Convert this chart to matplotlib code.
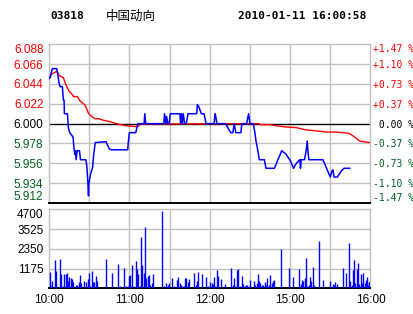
import matplotlib
matplotlib.use('Agg')
import matplotlib.pyplot as plt

# ---------------- data ----------------
code = "03818"
name = "中国动向"
stamp = "2010-01-11 16:00:58"
prev_close = 6.000

price_ticks = [6.088, 6.066, 6.044, 6.022, 6.000, 5.978, 5.956, 5.934, 5.912]
price_labels = ["6.088", "6.066", "6.044", "6.022", "6.000", "5.978", "5.956", "5.934", "5.912"]
pct_labels = ["+1.47 %", "+1.10 %", "+0.73 %", "+0.37 %", " 0.00 %",
              "-0.37 %", "-0.73 %", "-1.10 %", "-1.47 %"]
vol_ticks = [0, 1175, 2350, 3525, 4700]
vol_labels = ["", "1175", "2350", "3525", "4700"]
time_ticks = [0, 60, 120, 180, 240]
time_labels = ["10:00", "11:00", "12:00", "15:00", "16:00"]
grid_minutes = [30, 60, 90, 120, 150, 180, 210]

# trade price (minutes after 10:00, continuous session axis)
price_t = [0, 0.75, 2.5, 5.75, 6.5, 7.5, 8.25, 10, 10.75, 11.25, 11.5, 13.75, 14.5, 15.5,
           18, 18.5, 19.25, 19.75, 20.25, 21, 22.75, 23.5, 27.5, 28.25, 29, 29.5, 29.75,
           31, 32.5, 33.25, 34.5, 42.5, 45, 46.5, 58.75, 59.25, 60, 64.75, 65.5, 66.25,
           71, 71.5, 72.25, 85.75, 86.25, 87.25, 87.75, 88.75, 89.75, 90.5, 97.75, 98.25,
           99, 99.5, 100.25, 101.25, 102.5, 103.75, 110.25, 110.75, 111.75, 112.75, 113.75,
           115.75, 117.25, 123.25, 124, 124.75, 125.25, 132, 134, 135.75, 137.25, 138.25,
           139.5, 143.25, 144, 147.5, 149, 150, 152.5, 153.5, 154.5, 155.75, 157, 160.75,
           162, 168.25, 173.75, 177, 180.25, 182.5, 184.5, 186.25, 187.25, 187.75, 188.25,
           190.75, 192, 192.75, 193.25, 194, 204.5, 207, 210, 211.25, 212, 212.75, 215.25,
           218.25, 220.25, 224.5]
price_v = [6.050, 6.051, 6.061, 6.061, 6.055, 6.045, 6.041, 6.041, 6.026, 6.026, 6.011, 6.011,
           5.995, 5.990, 5.985, 5.975, 5.966, 5.970, 5.960, 5.970, 5.970, 5.960, 5.960, 5.953,
           5.935, 5.920, 5.933, 5.944, 5.951, 5.964, 5.979, 5.980, 5.972, 5.971, 5.971, 5.980,
           5.990, 5.990, 5.995, 6.000, 6.000, 6.011, 6.000, 6.000, 6.011, 6.000, 6.008, 6.000,
           6.000, 6.011, 6.011, 6.000, 6.011, 6.000, 6.011, 6.000, 6.000, 6.011, 6.011, 6.021,
           6.019, 6.015, 6.011, 6.011, 6.000, 6.000, 6.011, 6.006, 6.000, 6.000, 5.994, 5.990,
           5.990, 6.000, 5.990, 5.990, 6.000, 6.000, 6.011, 6.000, 6.000, 5.992, 5.981, 5.9715,
           5.960, 5.960, 5.9505, 5.9505, 5.970, 5.966, 5.9586, 5.9505, 5.9557, 5.9586, 5.960,
           5.9505, 5.960, 5.960, 5.9704, 5.9807, 5.9704, 5.960, 5.960, 5.9512, 5.9408, 5.9475,
           5.9488, 5.9408, 5.9408, 5.9475, 5.9505, 5.9505]

# average price
avg_t = [0, 0.75, 2, 4.5, 5.75, 7, 8.25, 10.75, 12, 13.25, 15, 17, 18.25, 21.25, 23.25, 25,
         27, 28.25, 29.5, 32, 34.5, 37, 40.75, 44.5, 47, 49.5, 54.5, 59.5, 64.5, 66.5, 68.25,
         150, 157, 157.5, 164.5, 170.75, 177, 184.5, 192, 199.5, 207, 214.5, 222, 224.5,
         228.25, 232, 237, 240]
avg_v = [6.050, 6.051, 6.055, 6.057, 6.058, 6.055, 6.0527, 6.051, 6.0454, 6.041, 6.036, 6.033,
         6.030, 6.030, 6.025, 6.023, 6.0203, 6.016, 6.0114, 6.0078, 6.0055, 6.0055, 6.0037,
         6.0026, 6.0015, 6.0003, 5.9985, 5.9974, 5.9967, 5.9967, 5.9996, 6.000, 6.000, 5.9989,
         5.9989, 5.9974, 5.9963, 5.9956, 5.993, 5.992, 5.9907, 5.9907, 5.9897, 5.9889, 5.985,
         5.9807, 5.9795, 5.979]

# volume per trade minute
vol_t = [0.75, 1.5, 2.5, 4.75, 5.5, 8.5, 9.25, 10.75, 11.5, 12.5, 13.5, 14.5, 15.25, 16.75,
         17.5, 18.25, 20.5, 21.25, 22.75, 23.5, 24.25, 26.5, 27.25, 28.75, 29.5, 30.25, 31.75,
         32.5, 33.25, 34.75, 35.5, 42.25, 46.75, 51.25, 52.75, 55.75, 57.25, 58.75, 59.5, 60.25,
         61.75, 62.5, 64.75, 65.5, 66.25, 67.75, 68.5, 69.25, 70.75, 71.5, 72.25, 73.75, 74.5,
         75.25, 76.75, 77.5, 84.25, 85.75, 87.25, 88.75, 89.5, 91.75, 93.25, 95.5, 96.25, 97.75,
         98.5, 99.25, 100.75, 101.5, 102.25, 103.75, 104.5, 108.25, 109.75, 110.5, 111.25,
         114.25, 117, 118.5, 120, 121.5, 122.25, 123, 123.75, 125.25, 126, 128.25, 131.25,
         135.75, 137.25, 138, 138.75, 140.25, 141, 142.5, 144, 144.75, 146.25, 147, 147.75,
         149.25, 150, 153, 153.75, 155.25, 156, 156.75, 157.5, 159, 159.75, 161.25, 162, 162.75,
         164.25, 165, 166.5, 167.25, 168, 173.25, 179.25, 182.25, 186.75, 188.25, 189, 189.75,
         191.25, 192, 192.75, 194.25, 195, 195.75, 197.25, 198, 201.75, 204.75, 210, 212.25,
         213, 213.75, 215.25, 219.75, 222, 224.25, 225, 226.5, 227.25, 228, 228.75, 230.25, 231,
         231.75, 233.25, 234, 234.75, 236.25, 237, 237.75, 238.25, 238.75, 239.25, 239.75]
vol_v = [990, 140, 435, 1685, 1030, 1745, 855, 160, 855, 855, 910, 435, 675, 615, 575, 375, 200,
         200, 375, 795, 315, 435, 375, 555, 910, 140, 1030, 375, 375, 735, 435, 1745, 910, 1450,
         140, 1210, 140, 140, 735, 795, 1390, 140, 1625, 1150, 855, 140, 3055, 1390, 910, 3650,
         615, 735, 795, 200, 315, 855, 4600, 140, 315, 200, 315, 615, 140, 495, 675, 315, 200,
         140, 140, 615, 615, 375, 555, 910, 200, 435, 970, 855, 675, 140, 375, 315, 260, 675,
         140, 1090, 735, 555, 260, 1210, 200, 615, 140, 1090, 1150, 140, 735, 260, 140, 200,
         200, 140, 495, 435, 200, 315, 855, 435, 315, 200, 200, 375, 200, 615, 200, 795, 315,
         435, 495, 2340, 1210, 675, 1150, 260, 495, 435, 615, 1805, 140, 200, 675, 435, 1270,
         200, 2815, 495, 435, 260, 200, 375, 260, 1210, 910, 2695, 435, 200, 1090, 1685, 315,
         1150, 1505, 260, 855, 315, 910, 315, 495, 675, 200, 375, 375, 375]

# ---------------- style ----------------
RED = '#FF0000'
GREEN = '#005F1E'
BLUE = '#0000FF'
GRID = '#C0C0C0'
W, H = 414, 314

fig = plt.figure(figsize=(W / 100, H / 100), dpi=100)
fig.patch.set_facecolor('white')

left = 49 / W
width = 321.5 / W
ax = fig.add_axes([left, 1 - 203 / H, width, (203 - 44.3) / H])
axv = fig.add_axes([left, 1 - 288.3 / H, width, (288.3 - 209.3) / H])

for a in (ax, axv):
    a.set_xlim(0, 240)
    for s in ('top', 'left', 'right'):
        a.spines[s].set_color(GRID)
        a.spines[s].set_linewidth(1.0)
    a.spines['bottom'].set_color('black')
    a.spines['bottom'].set_linewidth(1.4)
    for m in grid_minutes:
        a.axvline(m, color=GRID, lw=1.0, zorder=0)
    a.tick_params(axis='both', length=0)


def tick_color(p):
    return RED if p > prev_close else ('black' if p == prev_close else GREEN)


def clamp_va(labels, n):
    # first label sits below the top edge, last one above the bottom edge
    for i, lbl in enumerate(labels):
        if i == 0:
            lbl.set_va('top')
        elif i == n - 1:
            lbl.set_va('bottom')


# main price chart
ax.set_ylim(price_ticks[-1], price_ticks[0])
for p in price_ticks[1:-1]:
    if p != prev_close:
        ax.axhline(p, color=GRID, lw=1.0, zorder=0)
ax.axhline(prev_close, color='black', lw=1.0, zorder=1)
ax.plot(avg_t, avg_v, color=RED, lw=1.0, zorder=3)
ax.plot(price_t, price_v, color=BLUE, lw=1.1, zorder=4)
ax.set_xticks([])
ax.set_yticks(price_ticks)
ax.set_yticklabels(price_labels, fontfamily='Liberation Sans', fontsize=8.5)
ax.tick_params(axis='y', pad=4)
for lbl, p in zip(ax.get_yticklabels(), price_ticks):
    lbl.set_color(tick_color(p))
clamp_va(ax.get_yticklabels(), len(price_ticks))

axr = ax.twinx()
axr.set_ylim(ax.get_ylim())
axr.set_yticks(price_ticks)
axr.set_yticklabels(pct_labels, fontfamily='DejaVu Sans Mono', fontsize=7)
axr.tick_params(axis='y', length=0, pad=1.5)
for s in axr.spines.values():
    s.set_visible(False)
for lbl, p in zip(axr.get_yticklabels(), price_ticks):
    lbl.set_color(tick_color(p))
clamp_va(axr.get_yticklabels(), len(price_ticks))

# volume chart
axv.set_ylim(0, vol_ticks[-1])
for v in vol_ticks[1:-1]:
    axv.axhline(v, color=GRID, lw=1.0, zorder=0)
axv.vlines(vol_t, 0, vol_v, color=BLUE, lw=1.0, zorder=3)
axv.set_yticks(vol_ticks)
axv.set_yticklabels(vol_labels, fontfamily='Liberation Sans', fontsize=8.5)
axv.tick_params(axis='y', pad=4)
axv.get_yticklabels()[-1].set_va('top')
axv.set_xticks(time_ticks)
axv.set_xticklabels(time_labels, fontfamily='Liberation Sans', fontsize=8.5)
axv.tick_params(axis='x', pad=4)

# header
fig.text(50 / W, 1 - 16 / H, code, fontfamily='DejaVu Sans Mono', fontweight='bold',
         fontsize=8, va='center', ha='left')
fig.text(106 / W, 1 - 16 / H, name, fontfamily=['Noto Sans CJK SC', 'DejaVu Sans'],
         fontsize=9, va='center', ha='left')
fig.text(238 / W, 1 - 16 / H, stamp, fontfamily='DejaVu Sans Mono', fontweight='bold',
         fontsize=8, va='center', ha='left')

fig.savefig('out.png', dpi=100, facecolor='white')
